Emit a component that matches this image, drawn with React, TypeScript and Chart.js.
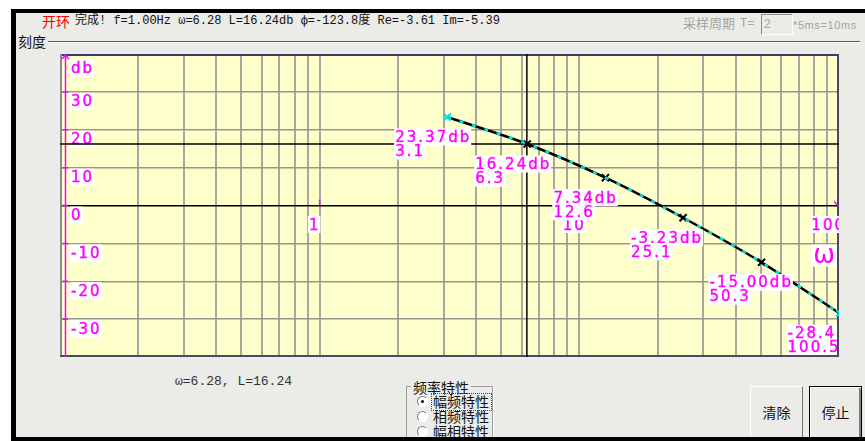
import { useEffect, useRef } from 'react';
import { Chart, registerables } from 'chart.js';

Chart.register(...registerables);

// Open-loop magnitude response: sampled frequencies (rad/s) and gain (dB)
const omega = [3.1, 6.3, 12.6, 25.1, 50.3, 100.5];
const gainDb = [23.37, 16.24, 7.34, -3.23, -15.0, -28.46];

// Cursor readout
const cursorOmega = 6.28;
const cursorGain = 16.24;

// Axis ranges and grid
const omegaMin = 0.1;
const omegaMax = 100;
const omegaGrid = [
  0.1, 0.2, 0.3, 0.4, 0.5, 0.6, 0.7, 0.8, 0.9,
  1, 2, 3, 4, 5, 6, 7, 8, 9,
  10, 20, 30, 40, 50, 60, 70, 80, 90, 100,
];
const omegaDecades = [1, 10, 100];
const gainMin = -40;
const gainMax = 40;
const gainTicks = [40, 30, 20, 10, 0, -10, -20, -30, -40];
const gainTickLabels = ['db', '30', '20', '10', '0', '-10', '-20', '-30', ''];

const MAGENTA = '#ff00ff';
const CYAN = '#00e0e8';
const LABEL_FONT = '15px "DejaVu Sans", sans-serif';

function boxedText(
  ctx: CanvasRenderingContext2D,
  text: string,
  x: number,
  baseline: number,
  align: 'left' | 'center' | 'right' = 'left'
) {
  const w = ctx.measureText(text).width;
  const left = align === 'center' ? x - w / 2 : align === 'right' ? x - w : x;
  ctx.fillStyle = '#ffffff';
  ctx.fillRect(left - 1, baseline - 13.5, w + 1, 17);
  ctx.fillStyle = MAGENTA;
  ctx.strokeStyle = MAGENTA;
  ctx.lineWidth = 0.4;
  ctx.textAlign = 'left';
  ctx.textBaseline = 'alphabetic';
  ctx.fillText(text, left, baseline);
  ctx.strokeText(text, left, baseline);
}

function drawFrame(ctx: CanvasRenderingContext2D, a: any) {
  ctx.save();
  ctx.lineWidth = 2;
  ctx.strokeStyle = '#3c3c6e';
  ctx.beginPath();
  ctx.moveTo(a.left, a.top + 1);
  ctx.lineTo(a.right, a.top + 1);
  ctx.stroke();
  ctx.strokeStyle = '#8a8a9c';
  ctx.beginPath();
  ctx.moveTo(a.left + 1, a.top);
  ctx.lineTo(a.left + 1, a.bottom);
  ctx.stroke();
  ctx.strokeStyle = '#4a4a5a';
  ctx.beginPath();
  ctx.moveTo(a.right - 1, a.top);
  ctx.lineTo(a.right - 1, a.bottom - 1);
  ctx.lineTo(a.left, a.bottom - 1);
  ctx.stroke();
  ctx.restore();
}

const bodeDecor = {
  id: 'bodeDecor',
  beforeDraw(chart: any) {
    const { ctx, chartArea: a } = chart;
    ctx.save();
    ctx.fillStyle = '#ffffcc';
    ctx.fillRect(a.left, a.top, a.right - a.left, a.bottom - a.top);
    ctx.restore();
  },
  beforeDatasetsDraw(chart: any) {
    const { ctx, chartArea: a, scales } = chart;
    const xs = scales.x;
    const ys = scales.y;
    drawFrame(ctx, a);
    ctx.save();
    ctx.beginPath();
    ctx.rect(a.left, a.top, a.right - a.left, a.bottom - a.top);
    ctx.clip();

    // gain axis with arrow head and tick marks
    const ax = a.left + 5.5;
    ctx.strokeStyle = MAGENTA;
    ctx.lineWidth = 1.5;
    ctx.beginPath();
    ctx.moveTo(ax, a.top);
    ctx.lineTo(ax, a.bottom);
    ctx.moveTo(ax - 3.5, a.top + 5);
    ctx.lineTo(ax, a.top + 1);
    ctx.lineTo(ax + 3.5, a.top + 5);
    gainTicks.forEach((v) => {
      if (v === gainMin || v === gainMax) return;
      const y = ys.getPixelForValue(v);
      ctx.moveTo(a.left + 2.5, y);
      ctx.lineTo(a.left + 8, y);
    });
    ctx.stroke();

    // frequency axis arrow and decade marks on the 0 dB line
    const y0 = ys.getPixelForValue(0);
    ctx.beginPath();
    ctx.moveTo(a.right - 5, y0 - 4);
    ctx.lineTo(a.right - 1, y0);
    omegaDecades.slice(0, -1).forEach((v) => {
      const x = xs.getPixelForValue(v);
      ctx.moveTo(x, y0 - 6);
      ctx.lineTo(x, y0);
    });
    ctx.stroke();

    ctx.font = LABEL_FONT;
    (ctx as any).letterSpacing = '2px';
    gainTicks.forEach((v, i) => {
      const text = gainTickLabels[i];
      if (!text) return;
      const y = ys.getPixelForValue(v);
      boxedText(ctx, text, a.left + 11, v === gainMax ? y + 19 : y + 14.5);
    });
    omegaDecades.forEach((v) => {
      const x = xs.getPixelForValue(v);
      const w = ctx.measureText(String(v)).width;
      // keep the last decade label pressed against the right edge
      const cx = Math.min(x - 5, a.right - w / 2 + 7);
      boxedText(ctx, String(v), cx, y0 + 24, 'center');
    });

    // ω axis name
    (ctx as any).letterSpacing = '0px';
    ctx.font = '26px "DejaVu Sans", sans-serif';
    const wText = 'ω';
    const ww = ctx.measureText(wText).width;
    ctx.fillStyle = '#ffffff';
    ctx.fillRect(a.right - ww - 6, y0 + 39, ww + 4, 22);
    ctx.fillStyle = MAGENTA;
    ctx.textAlign = 'right';
    ctx.fillText(wText, a.right - 4, y0 + 57);
    ctx.restore();
  },
  afterDatasetsDraw(chart: any) {
    const { ctx, chartArea: a } = chart;
    const meta = chart.getDatasetMeta(1);
    ctx.save();
    ctx.beginPath();
    ctx.rect(a.left, a.top, a.right - a.left - 2, a.bottom - a.top - 2);
    ctx.clip();
    ctx.font = LABEL_FONT;
    (ctx as any).letterSpacing = '2px';
    meta.data.forEach((pt: any, i: number) => {
      const x = pt.x - 52;
      boxedText(ctx, `${gainDb[i].toFixed(2)}db`, x, pt.y + 25);
      boxedText(ctx, String(omega[i]), x, pt.y + 39);
    });
    ctx.restore();
  },
};

const PANEL = '#ebebe7';
const abs = (left: number, top: number, extra: any = {}) => ({
  position: 'absolute' as const,
  left,
  top,
  ...extra,
});
const CJK = '"Noto Sans CJK SC", sans-serif';
const MONO = '"Liberation Mono", "Noto Sans CJK SC", monospace';

export default function App() {
  const canvasRef = useRef<HTMLCanvasElement>(null);

  useEffect(() => {
    const canvas = canvasRef.current;
    if (!canvas) return;
    const points = omega.map((w, i) => ({ x: w, y: gainDb[i] }));
    const chart = new Chart(canvas, {
      type: 'line',
      data: {
        datasets: [
          {
            data: points,
            borderColor: CYAN,
            borderWidth: 2.5,
            borderDash: [4, 9],
            pointRadius: 0,
            cubicInterpolationMode: 'monotone',
            fill: false,
            order: 1,
          },
          {
            data: points,
            borderColor: '#000000',
            borderWidth: 2.5,
            cubicInterpolationMode: 'monotone',
            pointStyle: 'crossRot',
            pointRadius: 5,
            pointBorderWidth: 2,
            pointBorderColor: omega.map((_, i) =>
              i === 0 || i === omega.length - 1 ? CYAN : '#000000'
            ),
            fill: false,
            clip: false,
            order: 2,
          },
          {
            data: [
              { x: omegaMin, y: cursorGain },
              { x: omegaMax, y: cursorGain },
            ],
            borderColor: '#000000',
            borderWidth: 1.5,
            pointRadius: 0,
            order: 3,
          },
          {
            data: [
              { x: cursorOmega, y: gainMin },
              { x: cursorOmega, y: gainMax },
            ],
            borderColor: '#000000',
            borderWidth: 1.5,
            pointRadius: 0,
            order: 3,
          },
        ],
      },
      options: {
        animation: false,
        responsive: false,
        devicePixelRatio: 1,
        events: [],
        layout: { padding: 0, autoPadding: false },
        plugins: { legend: { display: false }, tooltip: { enabled: false } },
        scales: {
          x: {
            type: 'logarithmic',
            min: omegaMin,
            max: omegaMax,
            afterBuildTicks: (s: any) => {
              s.ticks = omegaGrid.map((v) => ({ value: v }));
            },
            ticks: { display: false },
            grid: { color: '#a8a8a0', lineWidth: 2, drawTicks: false },
            border: { display: false },
          },
          y: {
            type: 'linear',
            min: gainMin,
            max: gainMax,
            afterBuildTicks: (s: any) => {
              s.ticks = gainTicks.map((v) => ({ value: v }));
            },
            ticks: { display: false },
            grid: {
              color: (c: any) => (c.tick && c.tick.value === 0 ? '#000000' : '#969690'),
              lineWidth: 1.5,
              drawTicks: false,
            },
            border: { display: false },
          },
        },
      } as any,
      plugins: [bodeDecor],
    });
    return () => chart.destroy();
  }, []);

  return (
    <div
      style={{
        position: 'fixed',
        left: 0,
        top: 0,
        width: 865,
        height: 441,
        background: '#ffffff',
        overflow: 'hidden',
        fontFamily: CJK,
        color: '#111',
      }}
    >
      <div style={abs(16, 13, { width: 849, height: 424, background: PANEL })} />

      {/* status line */}
      <div style={abs(42, 13, { fontSize: 14, lineHeight: '16px', color: '#ff0000', fontFamily: CJK })}>开环</div>
      <div style={abs(75, 13, { fontSize: 12, lineHeight: '16px', fontFamily: MONO, whiteSpace: 'pre' })}>
        完成! f=1.00Hz ω=6.28 L=16.24db ф=-123.8度 Re=-3.61 Im=-5.39
      </div>
      <div style={abs(683, 15, { fontSize: 13, lineHeight: '16px', color: '#a4a4a4', fontFamily: CJK })}>采样周期</div>
      <div style={abs(740, 16, { fontSize: 12, lineHeight: '16px', color: '#a4a4a4', fontFamily: MONO })}>T=</div>
      <div
        style={abs(761, 14, {
          width: 28,
          height: 19,
          borderStyle: 'solid',
          borderWidth: 1,
          borderColor: '#8a8a8a #ffffff #ffffff #8a8a8a',
          background: PANEL,
          fontSize: 12,
          lineHeight: '19px',
          color: '#a4a4a4',
          fontFamily: '"Liberation Sans", sans-serif',
          paddingLeft: 2,
          boxSizing: 'content-box',
        })}
      >
        2
      </div>
      <div style={abs(793, 17, { fontSize: 11, lineHeight: '16px', color: '#a4a4a4', fontFamily: '"Liberation Sans", sans-serif', letterSpacing: 0.6 })}>
        *5ms=10ms
      </div>

      {/* scale group frame */}
      <div style={abs(18, 33, { fontSize: 14, lineHeight: '16px', fontFamily: CJK })}>刻度</div>
      <div style={abs(48, 41, { width: 812, height: 1, background: '#5a5a5a', borderBottom: '1px solid #ffffff' })} />

      <canvas ref={canvasRef} width={779} height={303} style={abs(60, 54, { display: 'block' })} />

      {/* readout */}
      <div style={abs(175, 374, { fontSize: 13, lineHeight: '16px', fontFamily: MONO, color: '#333' })}>ω=6.28, L=16.24</div>

      {/* characteristic selector */}
      <div style={abs(406, 386, { width: 85, height: 60, border: '1px solid #9c9c9c', boxShadow: '1px 1px 0 #ffffff' })} />
      <div style={abs(411, 379, { fontSize: 14, lineHeight: '16px', background: PANEL, padding: '0 2px', fontFamily: CJK })}>频率特性</div>
      {[0, 1, 2].map((i) => (
        <div
          key={i}
          style={abs(417, 396 + i * 15, {
            width: 9,
            height: 9,
            borderRadius: '50%',
            borderStyle: 'solid',
            borderWidth: 1,
            borderColor: '#808080 #ffffff #ffffff #808080',
            background: '#ffffff',
          })}
        >
          {i === 0 && (
            <div style={abs(3, 3, { width: 3, height: 3, borderRadius: '50%', background: '#000' })} />
          )}
        </div>
      ))}
      <div style={abs(431, 393, { width: 59, height: 16, border: '1px dotted #444' })} />
      {['幅频特性', '相频特性', '幅相特性'].map((t, i) => (
        <div key={t} style={abs(433, 393 + i * 15, { fontSize: 14, lineHeight: '16px', fontFamily: CJK })}>
          {t}
        </div>
      ))}

      {/* buttons */}
      <div
        style={abs(750, 386, {
          width: 51,
          height: 58,
          borderStyle: 'solid',
          borderWidth: 1,
          borderColor: '#ffffff #707070 #707070 #ffffff',
          background: PANEL,
          fontSize: 14,
          fontFamily: CJK,
          textAlign: 'center',
          lineHeight: '50px',
        })}
      >
        清除
      </div>
      <div
        style={abs(809, 386, {
          width: 51,
          height: 58,
          border: '1px solid #000000',
          boxShadow: 'inset 1px 1px #ffffff, inset -2px -2px #808080',
          background: PANEL,
          fontSize: 14,
          fontFamily: CJK,
          textAlign: 'center',
          lineHeight: '50px',
        })}
      >
        停止
      </div>

      {/* window frame */}
      <div style={abs(11, 9, { width: 854, height: 4, background: '#000' })} />
      <div style={abs(11, 9, { width: 5, height: 432, background: '#000' })} />
      <div style={abs(11, 437, { width: 854, height: 4, background: '#000' })} />
    </div>
  );
}
